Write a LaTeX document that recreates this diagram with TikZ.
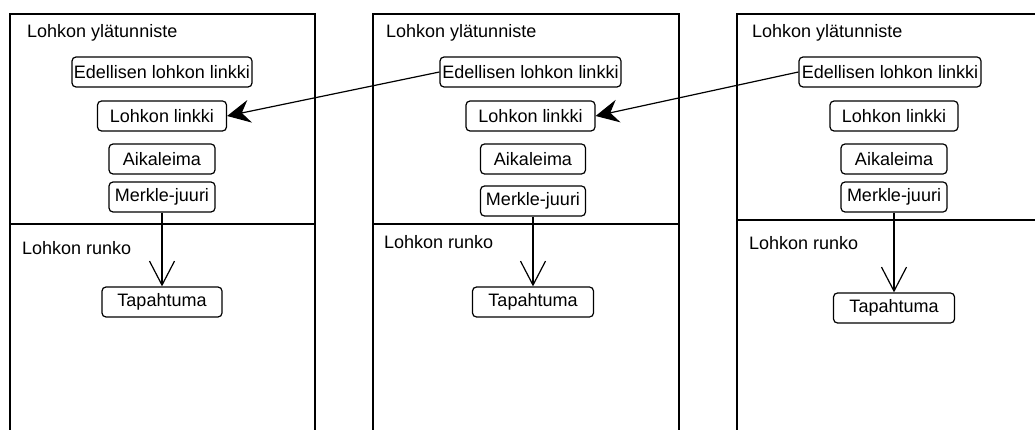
\documentclass[tikz,border=0pt]{standalone}
\usepackage{fontspec}
\setmainfont{Liberation Sans}
\usetikzlibrary{arrows.meta}

\begin{document}
\begin{tikzpicture}[x=1pt,y=1pt,
  field/.style={draw,rounded corners=4pt,line width=1.2pt,minimum height=30pt,inner sep=0pt,font=\fontsize{18}{20}\selectfont},
  caption/.style={anchor=west,inner sep=0pt,font=\fontsize{18}{20}\selectfont},
  link/.style={-{Stealth[length=23pt,width=23pt,inset=8pt]},line width=1.2pt},
  down/.style={-{Straight Barb[length=24pt,width=25pt]},line width=1.2pt}]
\useasboundingbox (0,0) rectangle (1035,-430);
\clip (0,0) rectangle (1035,-430);
\draw [line width=1.2pt] (10,-440) -- (10,-14) -- (315,-14) -- (315,-440);
\draw [line width=1.2pt] (10,-224) -- (315,-224);
\draw [line width=1.2pt] (373,-440) -- (373,-14) -- (679,-14) -- (679,-440);
\draw [line width=1.2pt] (373,-224) -- (679,-224);
\draw [line width=1.2pt] (737,-440) -- (737,-14) -- (1045,-14);
\draw [line width=1.2pt] (737,-220) -- (1045,-220);
\node [caption] (h1) at (27,-33) {Lohkon ylätunniste};
\node [caption] (r1) at (22,-248) {Lohkon runko};
\node [field,minimum width=180pt] (e1) at (162,-72) {Edellisen lohkon linkki};
\node [field,minimum width=129pt] (l1) at (162,-116) {Lohkon linkki};
\node [field,minimum width=106pt] (a1) at (162,-159) {Aikaleima};
\node [field,minimum width=106pt] (m1) at (162,-197) {Merkle-juuri};
\node [field,minimum width=120pt] (t1) at (162,-302) {Tapahtuma};
\node [caption] (h2) at (386,-33) {Lohkon ylätunniste};
\node [caption] (r2) at (384,-242) {Lohkon runko};
\node [field,minimum width=181pt] (e2) at (530.5,-72) {Edellisen lohkon linkki};
\node [field,minimum width=129pt] (l2) at (530.5,-116) {Lohkon linkki};
\node [field,minimum width=105pt] (a2) at (533,-159) {Aikaleima};
\node [field,minimum width=105pt] (m2) at (533,-201) {Merkle-juuri};
\node [field,minimum width=121pt] (t2) at (533,-302) {Tapahtuma};
\node [caption] (h3) at (752,-33) {Lohkon ylätunniste};
\node [caption] (r3) at (749,-243) {Lohkon runko};
\node [field,minimum width=182pt] (e3) at (890,-72) {Edellisen lohkon linkki};
\node [field,minimum width=128pt] (l3) at (894,-116) {Lohkon linkki};
\node [field,minimum width=106pt] (a3) at (894,-159) {Aikaleima};
\node [field,minimum width=106pt] (m3) at (894,-197) {Merkle-juuri};
\node [field,minimum width=121pt] (t3) at (894,-308) {Tapahtuma};
\draw [down] (m1) -- (t1);
\draw [down] (m2) -- (t2);
\draw [down] (m3) -- (t3);
\draw [link] (e2.west) -- (l1.east);
\draw [link] (e3.west) -- (l2.east);
\end{tikzpicture}
\end{document}
